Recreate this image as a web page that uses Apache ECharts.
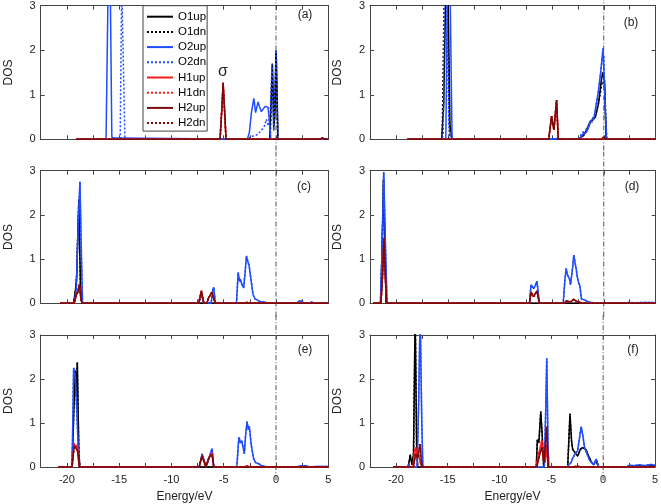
<!DOCTYPE html>
<html><head><meta charset="utf-8">
<script src="https://cdn.jsdelivr.net/npm/echarts@6/dist/echarts.min.js"></script>
<style>html,body{margin:0;padding:0;background:#fff}#c{width:661px;height:504px}</style>
</head><body><div id="c"></div>
<script>
// ---------- data (Energy eV, DOS) ----------
const seriesNames = ['O1up','O1dn','O2up','O2dn','H1up','H1dn','H2up','H2dn'];
const panelLabels = ['(a)','(b)','(c)','(d)','(e)','(f)'];
const xTicks = [-20,-15,-10,-5,0,5];
const yTicks = [0,1,2,3];

// panel (a)
const a_O1up = [[-19.1,0],[-0.6,0],[-0.35,1.7],[-0.2,0.3],[-0.1,0.6],[0.02,1.95],[0.18,0],[5,0]];
const a_O1dn = [[-19.1,0],[-0.55,0],[-0.35,1.65],[-0.22,0.2],[0.0,2.0],[0.18,0],[5,0]];
const a_O2up = [[-19.1,0],[-16.25,0],[-16.05,3.5],[-15.85,3.5],[-15.7,0.05],[-15.5,0.03],[-15.2,0.03],[-15.1,0],[-2.75,0],[-2.55,0.15],[-2.35,0.6],[-2.12,0.92],[-1.95,0.6],[-1.87,0.62],[-1.72,0.84],[-1.6,0.75],[-1.4,0.62],[-1.24,0.6],[-1.05,0.74],[-0.92,0.77],[-0.76,0.72],[-0.62,0.4],[-0.5,0],[5,0]];
const a_O2dn = [[-19.1,0],[-14.9,0],[-14.75,3.5],[-14.6,3.5],[-14.45,0],[-2.65,0],[-2.45,0.06],[-2.3,0.1],[-2.0,0.08],[-1.7,0.12],[-1.4,0.2],[-1.1,0.3],[-0.92,0.45],[-0.75,0.3],[-0.55,0.6],[-0.38,1.68],[-0.22,0.2],[0.02,2.0],[0.2,0],[5,0]];
const a_H1up = [[-19.1,0],[-5.35,0],[-5.15,0.8],[-5.06,1.27],[-4.95,0.8],[-4.78,0],[4.2,0],[4.45,0.03],[4.7,0],[5,0]];
const a_H1dn = a_H1up, a_H2up = a_H1up, a_H2dn = a_H1up;

// panel (b)
const b_O1up = [[-18.9,0],[-15.6,0],[-15.4,0.8],[-15.2,3.5],[-15.0,3.5],[-14.8,0.3],[-14.6,0],[-2.4,0],[-2.0,0.08],[-1.6,0.2],[-1.3,0.38],[-1.0,0.45],[-0.8,0.5],[-0.5,0.8],[-0.25,1.3],[-0.1,1.5],[0.08,1.3],[0.22,0],[5,0]];
const b_O1dn = [[-18.9,0],[-15.55,0],[-15.35,3.5],[-15.05,3.5],[-14.85,0],[-2.4,0],[-1.9,0.1],[-1.5,0.3],[-1.2,0.45],[-0.9,0.5],[-0.6,0.75],[-0.35,1.0],[-0.15,1.3],[0.05,1.25],[0.15,0.8],[0.28,0],[5,0]];
const b_O2up = [[-18.9,0],[-15.2,0],[-15.05,3.5],[-14.8,3.5],[-14.6,0],[-4.8,0],[-4.7,0.02],[-4.5,0.02],[-4.4,0],[-2.47,0],[-2.2,0.05],[-2.0,0.12],[-1.7,0.15],[-1.5,0.25],[-1.3,0.4],[-1.1,0.45],[-0.93,0.5],[-0.75,0.75],[-0.5,1.1],[-0.3,1.5],[-0.07,2.05],[0.1,1.0],[0.26,0],[5,0]];
const b_O2dn = [[-18.9,0],[-15.6,0],[-15.45,0.1],[-15.35,3.5],[-15.15,3.5],[-14.9,0.3],[-14.7,0],[-2.4,0],[-2.1,0.15],[-1.8,0.18],[-1.5,0.3],[-1.3,0.42],[-1.1,0.38],[-0.9,0.5],[-0.6,0.95],[-0.35,1.4],[-0.15,1.8],[0.0,1.9],[0.15,0.6],[0.3,0],[5,0]];
const b_H1up = [[-18.9,0],[-5.3,0],[-5.02,0.52],[-4.8,0.21],[-4.54,0.88],[-4.38,0],[-0.2,0],[0.0,0.05],[0.2,0],[5,0]];
const b_H1dn = b_H1up, b_H2up = b_H1up, b_H2dn = b_H1up;

// panel (c)
const c_O1up = [[-20.65,0],[-19.35,0],[-19.15,0.35],[-19.05,0.65],[-18.95,1.6],[-18.85,2.35],[-18.7,0.4],[-18.55,0],[5,0]];
const c_O1dn = c_O1up;
const c_O2up = [[-20.65,0],[-19.3,0],[-19.1,0.3],[-18.95,1.5],[-18.75,2.75],[-18.6,1.0],[-18.5,0],[-7.4,0],[-7.13,0.2],[-6.9,0],[-6.2,0],[-6.05,0.3],[-5.95,0.36],[-5.8,0],[-3.78,0],[-3.62,0.7],[-3.5,0.5],[-3.42,0.55],[-3.3,0.45],[-3.1,0.35],[-2.95,0.7],[-2.83,1.07],[-2.7,0.95],[-2.57,0.85],[-2.5,0.88],[-2.4,0.55],[-2.3,0.55],[-2.2,0.2],[-2.0,0.1],[-1.85,0.08],[-1.6,0.05],[-1.4,0.03],[-1.1,0.03],[-0.8,0],[2.0,0],[2.26,0.06],[2.5,0.04],[2.7,0],[3.2,0],[3.4,0.03],[3.6,0],[5,0]];
const c_O2dn = c_O2up;
const c_H1up = [[-20.65,0],[-19.3,0],[-19.1,0.2],[-18.95,0.25],[-18.8,0.42],[-18.65,0.1],[-18.55,0],[-7.4,0],[-7.13,0.28],[-6.9,0],[-6.6,0],[-6.49,0.1],[-6.3,0.12],[-6.14,0.25],[-6.0,0.28],[-5.8,0],[-3.0,0],[-2.8,0.02],[-2.5,0],[5,0]];
const c_H1dn = c_H1up, c_H2up = c_H1up, c_H2dn = c_H1up;

// panel (d)
const d_O1up = [[-22.2,0],[-21.45,0],[-21.2,2.8],[-20.95,0],[5,0]];
const d_O1dn = d_O1up;
const d_O2up = [[-22.2,0],[-21.5,0],[-21.3,1.5],[-21.18,2.97],[-21.0,1.2],[-20.86,0],[-7.15,0],[-7.0,0.42],[-6.75,0.33],[-6.6,0.4],[-6.43,0.5],[-6.2,0],[-3.9,0],[-3.75,0.5],[-3.62,0.79],[-3.5,0.65],[-3.4,0.62],[-3.3,0.55],[-3.2,0.42],[-3.0,0.8],[-2.88,1.09],[-2.75,0.9],[-2.65,0.78],[-2.55,0.6],[-2.4,0.45],[-2.3,0.4],[-2.15,0.1],[-2.0,0.08],[-1.8,0.07],[-1.5,0.03],[-1.2,0.02],[-0.7,0],[2.0,0],[2.3,0.02],[3.0,0.01],[4.0,0.02],[4.6,0.02],[5,0.01]];
const d_O2dn = d_O2up;
const d_H1up = [[-22.2,0],[-21.45,0],[-21.3,0.6],[-21.15,1.47],[-21.0,0.5],[-20.9,0],[-7.15,0],[-7.0,0.25],[-6.75,0.15],[-6.43,0.28],[-6.2,0],[-3.8,0],[-3.6,0.05],[-3.2,0.03],[-2.9,0.09],[-2.6,0.04],[-2.4,0.03],[-2.1,0],[5,0]];
const d_H1dn = d_H1up, d_H2up = d_H1up, d_H2dn = d_H1up;

// panel (e)
const e_O1up = [[-20.82,0],[-19.5,0],[-19.3,1.5],[-19.2,2.2],[-19.1,1.6],[-19.0,2.38],[-18.85,0.3],[-18.75,0],[5,0]];
const e_O1dn = e_O1up;
const e_O2up = [[-20.82,0],[-19.5,0],[-19.35,2.25],[-19.2,2.1],[-19.0,1.0],[-18.85,0],[-7.35,0],[-7.07,0.3],[-6.8,0.1],[-6.6,0.05],[-6.35,0.25],[-6.11,0.42],[-5.95,0],[-3.75,0],[-3.55,0.68],[-3.4,0.55],[-3.27,0.6],[-3.03,0.3],[-2.9,0.75],[-2.77,1.03],[-2.65,0.85],[-2.55,0.92],[-2.37,0.5],[-2.15,0.2],[-1.95,0.1],[-1.7,0.08],[-1.4,0.03],[-0.8,0],[2.0,0],[2.4,0.03],[2.8,0.03],[3.2,0],[3.8,0.01],[5,0.01]];
const e_O2dn = e_O2up;
const e_H1up = [[-20.82,0],[-19.5,0],[-19.3,0.53],[-19.15,0.45],[-19.0,0.5],[-18.8,0],[-7.35,0],[-7.07,0.26],[-6.7,0],[-6.45,0.2],[-6.11,0.32],[-5.95,0],[-3.0,0],[-2.8,0.03],[-2.5,0],[5,0]];
const e_H1dn = e_H1up;
const e_H2up = [[-20.82,0],[-19.5,0],[-19.3,0.48],[-19.1,0.42],[-18.95,0.35],[-18.8,0],[-7.35,0],[-7.07,0.25],[-6.7,0],[-6.4,0.22],[-6.11,0.28],[-5.95,0],[5,0]];
const e_H2dn = e_H2up;

// panel (f)
const f_O1up = [[-20.28,0],[-18.8,0],[-18.62,0.28],[-18.45,0.05],[-18.3,0.3],[-18.14,3.5],[-18.0,0.5],[-17.9,0],[-6.45,0],[-6.35,0.62],[-6.2,0.55],[-6.02,1.26],[-5.9,0.8],[-5.74,0],[-5.6,0.3],[-5.44,0.5],[-5.3,0],[-3.42,0],[-3.2,1.21],[-3.05,0.6],[-2.94,0.4],[-2.62,0.3],[-2.45,0.25],[-2.2,0.4],[-2.0,0.44],[-1.66,0.4],[-1.5,0.3],[-1.3,0.2],[-1.1,0.1],[-0.9,0.05],[-0.7,0.15],[-0.42,0],[2.5,0],[3.0,0.02],[3.8,0.03],[4.5,0.02],[5,0.03]];
const f_O1dn = f_O1up;
const f_O2up = [[-20.28,0],[-18.9,0],[-18.8,0.05],[-18.6,0],[-17.95,0],[-17.8,1.5],[-17.66,3.5],[-17.5,1.0],[-17.4,0],[-5.68,0],[-5.55,1.2],[-5.44,2.47],[-5.32,0.5],[-5.24,0],[-3.5,0],[-3.3,0.05],[-3.1,0.1],[-2.94,0.2],[-2.7,0.3],[-2.46,0.37],[-2.3,0.35],[-2.12,0.92],[-1.95,0.7],[-1.8,0.45],[-1.56,0.3],[-1.3,0.15],[-1.1,0.1],[-0.9,0.05],[-0.67,0.18],[-0.42,0],[2.3,0],[2.5,0.04],[3.0,0.03],[3.5,0.05],[4.0,0.03],[4.6,0.06],[5,0.04]];
const f_O2dn = f_O2up;
const f_H1up = [[-20.28,0],[-18.35,0],[-18.2,0.35],[-18.1,0.45],[-17.95,0.2],[-17.8,0.3],[-17.65,0.1],[-17.5,0],[-6.45,0],[-6.25,0.3],[-6.1,0.4],[-5.92,0.61],[-5.8,0.2],[-5.6,0.1],[-5.44,0.5],[-5.3,0],[-3.0,0],[-2.6,0.02],[-2.2,0],[5,0]];
const f_H1dn = f_H1up;
const f_H2up = [[-20.28,0],[-18.3,0],[-18.1,0.3],[-17.9,0.2],[-17.66,0.52],[-17.5,0],[-6.4,0],[-6.1,0.3],[-5.9,0.45],[-5.7,0.1],[-5.44,0.92],[-5.3,0],[-2.6,0],[-2.4,0.02],[-2.2,0],[5,0]];
const f_H2dn = f_H2up;

const fermiLine = [[0,-0.3],[0,3.45]];
const fermiLineTop = [[0,-0.25],[0,3.13]];

const panelData = [
  [a_O1up,a_O1dn,a_O2up,a_O2dn,a_H1up,a_H1dn,a_H2up,a_H2dn],
  [b_O1up,b_O1dn,b_O2up,b_O2dn,b_H1up,b_H1dn,b_H2up,b_H2dn],
  [c_O1up,c_O1dn,c_O2up,c_O2dn,c_H1up,c_H1dn,c_H2up,c_H2dn],
  [d_O1up,d_O1dn,d_O2up,d_O2dn,d_H1up,d_H1dn,d_H2up,d_H2dn],
  [e_O1up,e_O1dn,e_O2up,e_O2dn,e_H1up,e_H1dn,e_H2up,e_H2dn],
  [f_O1up,f_O1dn,f_O2up,f_O2dn,f_H1up,f_H1dn,f_H2up,f_H2dn]
];

// ---------- styling / layout ----------
const colors = ['#000000','#000000','#1f4cff','#1f4cff','#ff1a1a','#ff1a1a','#7d0a0a','#7d0a0a'];
const dotted = [false,true,false,true,false,true,false,true];
const FONT = 'Liberation Sans, Arial, sans-serif';
const AX = '#444';
const grids = [
  {left:40.7, top:5.7, width:287.6, height:133.6},
  {left:370,  top:5.7, width:285.7, height:133.6},
  {left:40.7, top:170.7, width:287.6, height:132.6},
  {left:370,  top:170.7, width:285.7, height:132.6},
  {left:40.7, top:335, width:287.6, height:133},
  {left:370,  top:335, width:285.7, height:133}
];
const labelPos = [[305,15],[631,23],[304,187],[632,187],[305,350],[633,350]];

const xAxes = [], yAxes = [], series = [];
grids.forEach((g, i) => {
  const bottomRow = i >= 4;
  xAxes.push({
    gridIndex:i, type:'value', min:-22.5, max:5, interval:2.5, position:'bottom',
    axisLine:{onZero:false, lineStyle:{color:AX, width:1}},
    axisTick:{inside:true, length:4, lineStyle:{color:AX}},
    splitLine:{show:false},
    axisLabel:{show:bottomRow, fontFamily:FONT, fontSize:11, color:'#222', margin:7,
      formatter: v => (xTicks.indexOf(v) >= 0 ? String(v) : '')},
    name: bottomRow ? 'Energy/eV' : '', nameLocation:'middle', nameGap:24,
    nameTextStyle:{fontFamily:FONT, fontSize:12, color:'#222'}
  });
  xAxes.push({
    gridIndex:i, type:'value', min:-22.5, max:5, interval:2.5, position:'top',
    axisLine:{onZero:false, lineStyle:{color:AX, width:1}},
    axisTick:{inside:true, length:4, lineStyle:{color:AX}},
    splitLine:{show:false}, axisLabel:{show:false}
  });
  yAxes.push({
    gridIndex:i, type:'value', min:0, max:3, interval:1, position:'left',
    axisLine:{show:true, onZero:false, lineStyle:{color:AX, width:1}},
    axisTick:{show:true, inside:true, length:4, lineStyle:{color:AX}},
    splitLine:{show:false},
    axisLabel:{fontFamily:FONT, fontSize:11, color:'#222', margin:5,
      formatter: v => (yTicks.indexOf(v) >= 0 ? String(v) : '')},
    name:'DOS', nameLocation:'middle', nameGap:26, nameRotate:90,
    nameTextStyle:{fontFamily:FONT, fontSize:12, color:'#222'}
  });
  yAxes.push({
    gridIndex:i, type:'value', min:0, max:3, interval:1, position:'right',
    axisLine:{show:true, onZero:false, lineStyle:{color:AX, width:1}},
    axisTick:{show:true, inside:true, length:4, lineStyle:{color:AX}},
    splitLine:{show:false}, axisLabel:{show:false}
  });
  panelData[i].forEach((d, k) => {
    series.push({
      name: seriesNames[k], type:'line', xAxisIndex:2*i, yAxisIndex:2*i,
      data:d, symbol:'none', clip:true, animation:false,
      lineStyle:{color:colors[k], width:1.5, type: dotted[k] ? [2,2] : 'solid'},
      itemStyle:{color:colors[k]}
    });
  });
  series.push({
    name:'fermi'+i, type:'line', xAxisIndex:2*i, yAxisIndex:2*i,
    data: i < 2 ? fermiLineTop : fermiLine, symbol:'none', clip:false, silent:true,
    lineStyle:{color:'#555', width:1, type:[5,2,1,2]}, z:1
  });
});

const graphics = panelLabels.map((t, i) => ({
  type:'text', x:labelPos[i][0], y:labelPos[i][1],
  style:{text:t, font:'12px ' + FONT, fill:'#222', textAlign:'center', textVerticalAlign:'middle'}
}));
graphics.push({type:'text', x:223, y:72, style:{text:'σ', font:'16px ' + FONT, fill:'#222', textAlign:'center', textVerticalAlign:'middle'}});

const chart = echarts.init(document.getElementById('c'), null, {renderer:'canvas'});
chart.setOption({
  animation:false,
  backgroundColor:'#fff',
  grid: grids,
  xAxis: xAxes,
  yAxis: yAxes,
  legend:{
    data: seriesNames, orient:'vertical', left:143, top:5.7,
    itemWidth:26, itemHeight:12, itemGap:3.2, padding:[5,1,2,3],
    borderColor:'#444', borderWidth:1, backgroundColor:'#fff',
    itemStyle:{opacity:0},
    textStyle:{fontFamily:FONT, fontSize:11.5, color:'#000', lineHeight:12},
    selectedMode:false
  },
  graphic: graphics,
  series: series
});
</script>
</body></html>
